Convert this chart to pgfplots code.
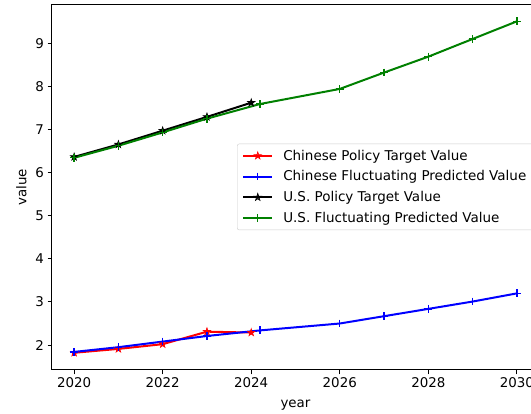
\documentclass[border=0pt]{standalone}
\usepackage{pgfplots}
\pgfplotsset{compat=1.18}
\usepackage{fontspec}
\setmainfont{DejaVu Sans}

% filled five-pointed star marker
\pgfdeclareplotmark{fstar}{%
  \pgfpathmoveto{\pgfpointpolar{90}{\pgfplotmarksize}}%
  \pgfpathlineto{\pgfpointpolar{126}{0.382\pgfplotmarksize}}%
  \pgfpathlineto{\pgfpointpolar{162}{\pgfplotmarksize}}%
  \pgfpathlineto{\pgfpointpolar{198}{0.382\pgfplotmarksize}}%
  \pgfpathlineto{\pgfpointpolar{234}{\pgfplotmarksize}}%
  \pgfpathlineto{\pgfpointpolar{270}{0.382\pgfplotmarksize}}%
  \pgfpathlineto{\pgfpointpolar{306}{\pgfplotmarksize}}%
  \pgfpathlineto{\pgfpointpolar{342}{0.382\pgfplotmarksize}}%
  \pgfpathlineto{\pgfpointpolar{18}{\pgfplotmarksize}}%
  \pgfpathlineto{\pgfpointpolar{54}{0.382\pgfplotmarksize}}%
  \pgfpathclose
  \pgfusepathqfillstroke
}

\definecolor{mplgreen}{rgb}{0,0.5,0}

\begin{document}
\begin{tikzpicture}[x=1pt,y=1pt]
\begin{axis}[
  at={(0pt,0pt)}, anchor=south west,
  scale only axis,
  width=487pt, height=365pt,
  xmin=2019.5, xmax=2030.5,
  ymin=1.42, ymax=9.9,
  xtick={2020,2022,...,2030},
  ytick={2,3,...,9},
  xticklabel style={/pgf/number format/1000 sep={}},
  /pgf/number format/assume math mode=true,
  tick align=outside,
  major tick length=4.5pt,
  every tick/.style={black, line width=1pt},
  axis line style={line width=1pt},
  xtick pos=bottom, ytick pos=left,
  ticklabel style={font=\fontsize{13.4}{15}\selectfont},
  label style={font=\fontsize{13.4}{15}\selectfont},
  xlabel={year}, ylabel={value},
  xlabel style={at={(axis description cs:0.5,0)}, anchor=north, yshift=-26pt},
  ylabel style={at={(axis description cs:0,0.5)}, anchor=south, yshift=22pt},
  legend cell align=left,
  legend style={
    at={(axis description cs:0.380,0.620)}, anchor=north west,
    draw=black!20, rounded corners=2pt, fill=white, fill opacity=0.8, text opacity=1,
    font=\fontsize{13.5}{15}\selectfont,
    row sep=5pt, inner xsep=5pt, inner ysep=4pt,
  },
  legend image code/.code={%
    \draw[mark repeat=2, mark phase=2, #1] plot coordinates {(0pt,0pt) (14.5pt,0pt) (29pt,0pt)};
    \path (37pt,0pt);},
  every axis plot/.append style={line width=2pt, mark size=3.9pt},
]
% Chinese policy target
\addplot[red, mark=fstar, mark options={line width=0.6pt, fill=red}] coordinates {
  (2020,1.82) (2021,1.91) (2022,2.02) (2023,2.31) (2024,2.29)};
\addlegendentry{Chinese Policy Target Value}
% Chinese fluctuating prediction
\addplot[blue, mark=+, mark options={line width=1.3pt}] coordinates {
  (2020,1.84) (2021,1.95) (2022,2.08) (2023,2.21) (2024.2,2.34)
  (2026,2.50) (2027,2.67) (2028,2.84) (2029,3.01) (2030,3.20)};
\addlegendentry{Chinese Fluctuating Predicted Value}
% U.S. policy target
\addplot[black, mark=fstar, mark options={line width=0.6pt, fill=black}] coordinates {
  (2020,6.37) (2021,6.66) (2022,6.98) (2023,7.30) (2024,7.63)};
\addlegendentry{U.S. Policy Target Value}
% U.S. fluctuating prediction
\addplot[mplgreen, mark=+, mark options={line width=1.3pt}] coordinates {
  (2020,6.35) (2021,6.63) (2022,6.94) (2023,7.26) (2024.2,7.60)
  (2026,7.95) (2027,8.33) (2028,8.70) (2029,9.11) (2030,9.52)};
\addlegendentry{U.S. Fluctuating Predicted Value}
\end{axis}
\pgfresetboundingbox
\path[use as bounding box] (-52pt,-44pt) rectangle (479pt,370pt);
\end{tikzpicture}
\end{document}
